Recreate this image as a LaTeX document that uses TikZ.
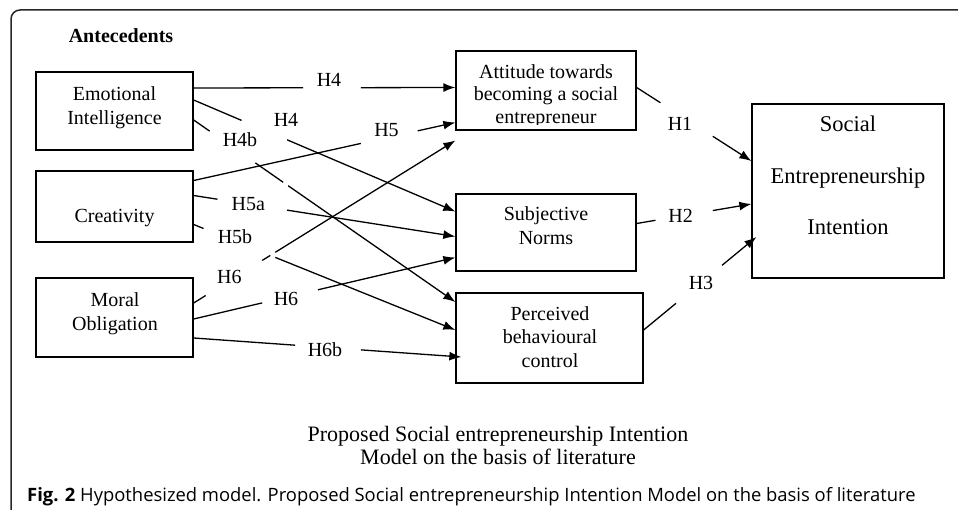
\documentclass[tikz,border=0pt]{standalone}
\usepackage{fontspec}
\setmainfont{Liberation Serif}
\newfontfamily\capfont{Open Sans}
\usetikzlibrary{arrows.meta,calc}
\newcommand{\gaparrow}[4]{\draw[conn] (#1) -- ($(#1)!#3!(#2)$); \draw[arr] ($(#1)!#4!(#2)$) -- (#2);}
\newcommand{\gaparrowtwo}[6]{\draw[conn] (#1) -- ($(#1)!#3!(#2)$); \draw[conn] ($(#1)!#4!(#2)$) -- ($(#1)!#5!(#2)$); \draw[arr] ($(#1)!#6!(#2)$) -- (#2);}
\begin{document}
\begin{tikzpicture}[x=1pt,y=-1pt,
  box/.style={draw, line width=1.3pt, inner sep=0pt},
  txt/.style={align=center, inner sep=0pt, font=\fontsize{20}{24}\selectfont},
  hlab/.style={inner sep=0pt, anchor=base, font=\fontsize{20}{23}\selectfont},
  conn/.style={line width=1.3pt},
  arr/.style={conn, -{Latex[length=12pt,width=9pt]}},
]
\useasboundingbox (0,0) rectangle (958,510);
\draw[line width=1.5pt, rounded corners=9pt, black!85] (11,515) -- (11,10) -- (965,10);

% boxes
\node[box, minimum width=157pt, minimum height=78pt] (ei) at (114.5,111) {};
\node[box, minimum width=157pt, minimum height=71pt] (cr) at (114.5,206.5) {};
\node[box, minimum width=157pt, minimum height=79pt] (mo) at (114.5,317.5) {};
\node[box, minimum width=180pt, minimum height=79pt] (att) at (546,90.5) {};
\node[box, minimum width=180pt, minimum height=77pt] (sn) at (546,232.5) {};
\node[box, minimum width=187pt, minimum height=90pt] (pbc) at (549.5,338) {};
\node[box, minimum width=192pt, minimum height=174pt] (sei) at (848,191) {};

% box texts
\node[inner sep=0pt, anchor=base, font=\bfseries\fontsize{20}{24}\selectfont] (ante) at (121,43) {Antecedents};
\node[txt] (ei-t) at (114.5,107.3) {Emotional\\Intelligence};
\node[inner sep=0pt, anchor=base, font=\fontsize{20}{24}\selectfont] (cr-t) at (114.5,222.3) {Creativity};
\node[txt] (mo-t) at (115,313.3) {Moral\\Obligation};
\begin{scope}
\clip (att.north west) rectangle ($(att.south east)+(0,-6.5)$);
\node[txt, font=\fontsize{20}{22.5}\selectfont] (att-t) at (546,95.8) {Attitude towards\\becoming a social\\entrepreneur};
\end{scope}
\node[txt] (sn-t) at (546,225.2) {Subjective\\Norms};
\node[txt, font=\fontsize{20}{23.5}\selectfont] (pbc-t) at (550,336.7) {Perceived\\behavioural\\control};
\node[txt, font=\fontsize{22.5}{51.5}\selectfont] (sei-t) at (848,175.8) {Social\\Entrepreneurship\\Intention};

% connector end points
\coordinate (ei1) at ($(ei.east)+(0,-23)$);
\coordinate (ei2) at ($(ei.east)+(0,-11)$);
\coordinate (ei3) at ($(ei.east)+(0,9)$);
\coordinate (cr1) at ($(cr.east)+(0,-26)$);
\coordinate (cr2) at ($(cr.east)+(0,-11)$);
\coordinate (cr3) at ($(cr.east)+(0,18)$);
\coordinate (mo1) at ($(mo.east)+(0,-14.5)$);
\coordinate (mo2) at ($(mo.east)+(0,1.5)$);
\coordinate (mo3) at ($(mo.east)+(0,20.5)$);
\coordinate (att1) at ($(att.west)+(0,-3)$);
\coordinate (att2) at ($(att.west)+(0,32)$);
\coordinate (att3) at ($(att.west)+(0,50)$);
\coordinate (sn1) at ($(sn.west)+(0,-21)$);
\coordinate (sn2) at ($(sn.west)+(0,4)$);
\coordinate (sn3) at ($(sn.west)+(0,25)$);
\coordinate (pbc1) at ($(pbc.west)+(0,-36)$);
\coordinate (pbc2) at ($(pbc.west)+(0,-8)$);
\coordinate (pbc3) at ($(pbc.west)+(6,19)$);
\coordinate (atto) at ($(att.east)+(0,-3)$);
\coordinate (sno) at ($(sn.east)+(0,-9)$);
\coordinate (pbco) at ($(pbc.east)+(0,-8)$);
\coordinate (sei1) at ($(sei.west)+(0,-30)$);
\coordinate (sei2) at ($(sei.west)+(0,13)$);
\coordinate (sei3) at ($(sei.west)+(5,46)$);

% connectors
\gaparrow{ei1}{att1}{0.418}{0.639}
\gaparrow{ei2}{sn1}{0.183}{0.357}
\gaparrowtwo{ei3}{pbc1}{0.061}{0.236}{0.342}{0.361}
\gaparrow{cr1}{att2}{0.639}{0.856}
\gaparrow{cr2}{sn2}{0.091}{0.357}
\gaparrow{cr3}{pbc2}{0.038}{0.312}
\gaparrowtwo{mo1}{att3}{0.046}{0.262}{0.293}{0.312}
\gaparrow{mo2}{sn3}{0.262}{0.475}
\gaparrow{mo3}{pbc3}{0.379}{0.625}
\gaparrow{atto}{sei1}{0.207}{0.664}
\gaparrow{sno}{sei2}{0.164}{0.664}
\gaparrow{pbco}{sei3}{0.287}{0.696}

% labels
\node[hlab] (h4a) at (329,87) {H4};
\node[hlab] (h4b) at (286,126.5) {H4};
\node[hlab] (h4c) at (240,146.5) {H4b};
\node[hlab] (h5) at (386.5,136.7) {H5};
\node[hlab] (h5a) at (248.3,210.7) {H5a};
\node[hlab] (h5b) at (235,244) {H5b};
\node[hlab] (h6a) at (229.3,283.3) {H6};
\node[hlab] (h6b) at (286,305.7) {H6};
\node[hlab] (h6c) at (325,356) {H6b};
\node[hlab] (h1) at (680,130.7) {H1};
\node[hlab] (h2) at (680.7,222.7) {H2};
\node[hlab] (h3) at (701,290) {H3};

% captions
\node[txt, font=\fontsize{22}{23.5}\selectfont] (cap) at (498,445.7) {Proposed Social entrepreneurship Intention\\Model on the basis of literature};
\node[anchor=base west, inner sep=0pt, font=\capfont\fontsize{18.4}{21}\selectfont] (fig) at (27,501) {\textbf{Fig. 2} Hypothesized model. Proposed Social entrepreneurship Intention Model on the basis of literature};
\end{tikzpicture}
\end{document}
